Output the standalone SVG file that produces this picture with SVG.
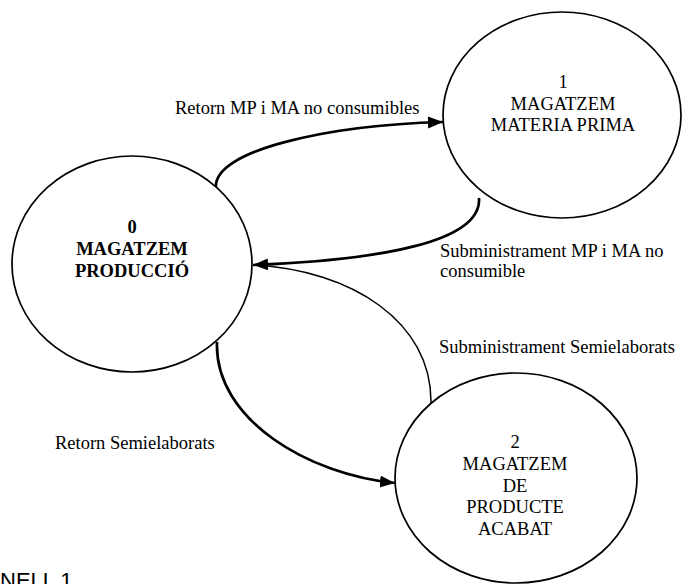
<svg xmlns="http://www.w3.org/2000/svg" width="682" height="584" viewBox="0 0 682 584">
<style>
.node ellipse{fill:#fff;stroke:#000;stroke-width:1.7}
text{font-family:"Liberation Serif","Times New Roman",serif;font-size:18.5px;fill:#000}
.c{text-anchor:middle}
.b{font-weight:bold}
.edge{fill:none;stroke:#000;stroke-width:2.7}
.thin{stroke-width:1.5}
.title{font-family:"Liberation Sans",Arial,sans-serif;font-size:22px}
</style>
<defs>
<marker id="ah" markerUnits="userSpaceOnUse" markerWidth="16" markerHeight="13" refX="15" refY="6" orient="auto">
<path d="M0,0 L15,6 L0,12 z" fill="#000"/>
</marker>
</defs>
<g id="connectors">
<path class="edge" d="M216,188 C212,150 330,125 443,122" marker-end="url(#ah)"/>
<path class="edge" d="M479,198 C482,242 380,260 253,265" marker-end="url(#ah)"/>
<path class="edge thin" d="M431,403 C432,322 352,270 253,265"/>
<path class="edge" d="M217,342 C214,420 310,475 395,483" marker-end="url(#ah)"/>
</g>
<g id="node0" class="node">
<ellipse cx="132" cy="264" rx="120" ry="108"/>
<text class="c b" x="132" y="233">0</text>
<text class="c b" x="132" y="255">MAGATZEM</text>
<text class="c b" x="132" y="277">PRODUCCIÓ</text>
</g>
<g id="node1" class="node">
<ellipse cx="562" cy="115" rx="119" ry="103"/>
<text class="c" x="563" y="88">1</text>
<text class="c" x="563" y="110">MAGATZEM</text>
<text class="c" x="563" y="131">MATERIA PRIMA</text>
</g>
<g id="node2" class="node">
<ellipse cx="516" cy="478" rx="121" ry="105"/>
<text class="c" x="515" y="448">2</text>
<text class="c" x="515" y="470">MAGATZEM</text>
<text class="c" x="515" y="492">DE</text>
<text class="c" x="515" y="513">PRODUCTE</text>
<text class="c" x="515" y="535">ACABAT</text>
</g>
<g id="labels">
<text x="175" y="114">Retorn MP i MA no consumibles</text>
<text x="440" y="257">Subministrament MP i MA no</text>
<text x="440" y="277">consumible</text>
<text x="439" y="353">Subministrament Semielaborats</text>
<text x="55" y="449">Retorn Semielaborats</text>
<text class="title" x="0" y="588">NELL 1</text>
</g>
</svg>
